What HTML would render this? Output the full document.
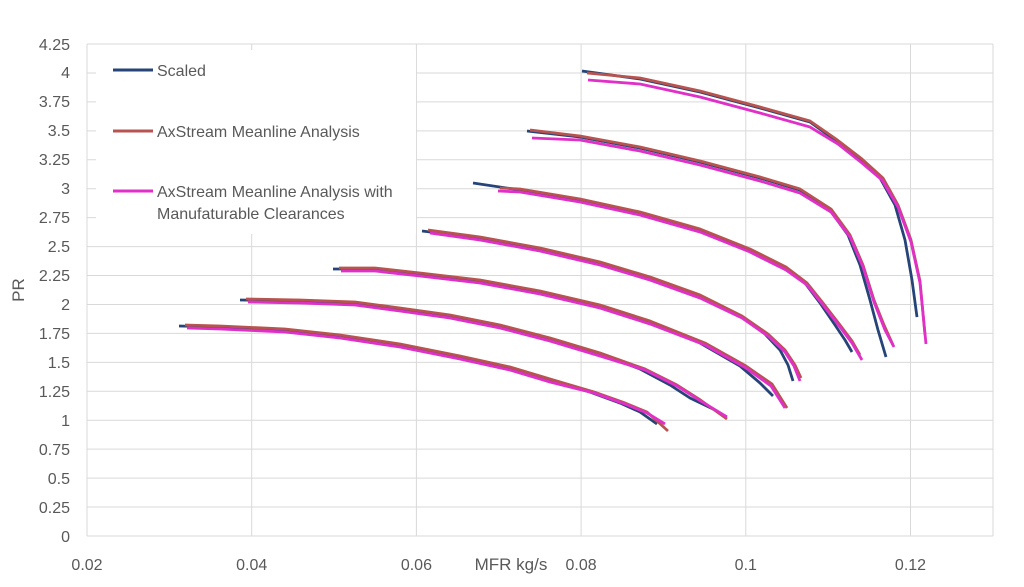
<!DOCTYPE html><html><head><style>body{margin:0;background:#fff}svg{display:block}text{font-family:"Liberation Sans",sans-serif;fill:#595959}</style></head><body>
<svg width="1024" height="587" viewBox="0 0 1024 587">
<rect x="0" y="0" width="1024" height="587" fill="#fff"/>
<g stroke="#d9d9d9" stroke-width="1">
<line x1="87" x2="993" y1="536" y2="536"/><line x1="87" x2="993" y1="507.06" y2="507.06"/><line x1="87" x2="993" y1="478.12" y2="478.12"/><line x1="87" x2="993" y1="449.18" y2="449.18"/><line x1="87" x2="993" y1="420.24" y2="420.24"/><line x1="87" x2="993" y1="391.3" y2="391.3"/><line x1="87" x2="993" y1="362.36" y2="362.36"/><line x1="87" x2="993" y1="333.42" y2="333.42"/><line x1="87" x2="993" y1="304.48" y2="304.48"/><line x1="87" x2="993" y1="275.54" y2="275.54"/><line x1="87" x2="993" y1="246.6" y2="246.6"/><line x1="87" x2="993" y1="217.66" y2="217.66"/><line x1="87" x2="993" y1="188.72" y2="188.72"/><line x1="87" x2="993" y1="159.78" y2="159.78"/><line x1="87" x2="993" y1="130.84" y2="130.84"/><line x1="87" x2="993" y1="101.9" y2="101.9"/><line x1="87" x2="993" y1="72.96" y2="72.96"/><line x1="87" x2="993" y1="44.02" y2="44.02"/>
<line x1="87" x2="87" y1="44" y2="536"/><line x1="251.7" x2="251.7" y1="44" y2="536"/><line x1="416.4" x2="416.4" y1="44" y2="536"/><line x1="581.1" x2="581.1" y1="44" y2="536"/><line x1="745.8" x2="745.8" y1="44" y2="536"/><line x1="910.5" x2="910.5" y1="44" y2="536"/><line x1="993" x2="993" y1="44" y2="536"/>
</g>
<g font-size="16" text-anchor="end">
<text x="70" y="542">0</text><text x="70" y="513">0.25</text><text x="70" y="484">0.5</text><text x="70" y="455">0.75</text><text x="70" y="426">1</text><text x="70" y="397">1.25</text><text x="70" y="368">1.5</text><text x="70" y="339">1.75</text><text x="70" y="310">2</text><text x="70" y="281">2.25</text><text x="70" y="252">2.5</text><text x="70" y="223">2.75</text><text x="70" y="194">3</text><text x="70" y="165">3.25</text><text x="70" y="136">3.5</text><text x="70" y="107">3.75</text><text x="70" y="78">4</text><text x="70" y="50">4.25</text>
</g>
<g font-size="16" text-anchor="middle">
<text x="87" y="570">0.02</text><text x="251.7" y="570">0.04</text><text x="416.4" y="570">0.06</text><text x="581.1" y="570">0.08</text><text x="745.8" y="570">0.1</text><text x="910.5" y="570">0.12</text>
</g>
<g fill="none" stroke-width="2.8" stroke-linejoin="round">
<polyline stroke="#264478" points="179,326 220,327 285,330 340,336 400,345 460,357 510,368 550,380 590,392 620,403 640,412 657,424"/>
<polyline stroke="#b85450" points="185,325 220,326 285,329 340,335 400,344 460,356 510,367 550,379 594,392 625,403 647,412 668,431"/>
<polyline stroke="#e030c8" points="187,328 220,329 285,332 340,338 400,347 460,359 510,370 550,382 594,393 625,404 647,413 665,424"/>
<polyline stroke="#264478" points="240,300 300,301 355,303 400,309 450,316 500,326 550,339 600,354 640,369 670,385 690,398 715,410"/>
<polyline stroke="#b85450" points="246,299 300,300 355,302 400,308 450,315 500,325 550,338 600,353 645,369 677,385 699,399 727,419"/>
<polyline stroke="#e030c8" points="248,302 300,303 355,305 400,311 450,318 500,328 550,341 600,356 645,370 677,386 699,400 727,417"/>
<polyline stroke="#264478" points="333,269 375,269 420,274 480,281 540,292 600,306 650,322 700,343 740,366 760,383 773,396"/>
<polyline stroke="#b85450" points="339,268 375,268 420,273 480,280 540,291 600,305 650,321 705,343 746,366 772,384 787,408"/>
<polyline stroke="#e030c8" points="341,271 375,271 420,276 480,283 540,294 600,308 650,324 705,345 746,368 771,386 785,408"/>
<polyline stroke="#264478" points="422,231 480,238 540,249 600,263 650,278 700,296 740,316 765,334 780,350 788,365 793,381"/>
<polyline stroke="#b85450" points="428,230 480,237 540,248 600,262 650,277 700,295 742,316 768,334 785,350 795,365 801,378"/>
<polyline stroke="#e030c8" points="430,233 480,240 540,251 600,265 650,280 700,298 742,318 768,336 785,352 794,366 800,381"/>
<polyline stroke="#264478" points="473,183 520,190 580,200 640,213 700,230 750,250 785,268 805,283 820,303 835,325 845,340 852,352"/>
<polyline stroke="#b85450" points="500,188 520,189 580,199 640,212 700,229 750,249 786,267 807,283 823,303 840,325 852,341 860,355"/>
<polyline stroke="#e030c8" points="498,191 520,192 580,202 640,215 700,232 750,252 786,270 807,285 823,305 840,327 852,343 862,360"/>
<polyline stroke="#264478" points="527,131 580,137 640,148 700,162 760,178 800,190 830,210 848,235 860,265 870,300 878,330 886,357"/>
<polyline stroke="#b85450" points="530,130 580,136 640,147 700,161 760,177 800,189 831,209 850,235 863,265 874,300 884,325 893,345"/>
<polyline stroke="#e030c8" points="532,138 580,140 640,151 700,165 760,181 800,193 831,212 850,237 863,267 874,302 885,330 894,347"/>
<polyline stroke="#264478" points="582,71 640,79 700,92 760,108 810,122 835,140 860,160 880,178 895,205 905,240 912,280 917,317"/>
<polyline stroke="#b85450" points="587,73 640,78 700,91 760,107 810,121 836,139 862,159 883,178 898,205 911,240 920,281 925,335"/>
<polyline stroke="#e030c8" points="588,80 640,84 700,97 760,113 810,127 838,144 862,163 882,180 898,207 911,242 920,283 926,344"/>
</g>
<rect x="96" y="50" width="320" height="184" fill="#fff"/>
<line x1="113" y1="70" x2="153" y2="70" stroke="#264478" stroke-width="3"/>
<line x1="113" y1="131" x2="153" y2="131" stroke="#b85450" stroke-width="3"/>
<line x1="113" y1="191" x2="153" y2="191" stroke="#e030c8" stroke-width="3"/>
<text x="157" y="76" font-size="16">Scaled</text>
<text x="157" y="137" font-size="16">AxStream Meanline Analysis</text>
<text x="157" y="197" font-size="16">AxStream Meanline Analysis with</text>
<text x="157" y="219" font-size="16">Manufaturable Clearances</text>
<text x="511" y="570" font-size="17" text-anchor="middle">MFR kg/s</text>
<text x="24" y="290" font-size="17" text-anchor="middle" transform="rotate(-90 24 290)">PR</text>
</svg>
</body></html>
